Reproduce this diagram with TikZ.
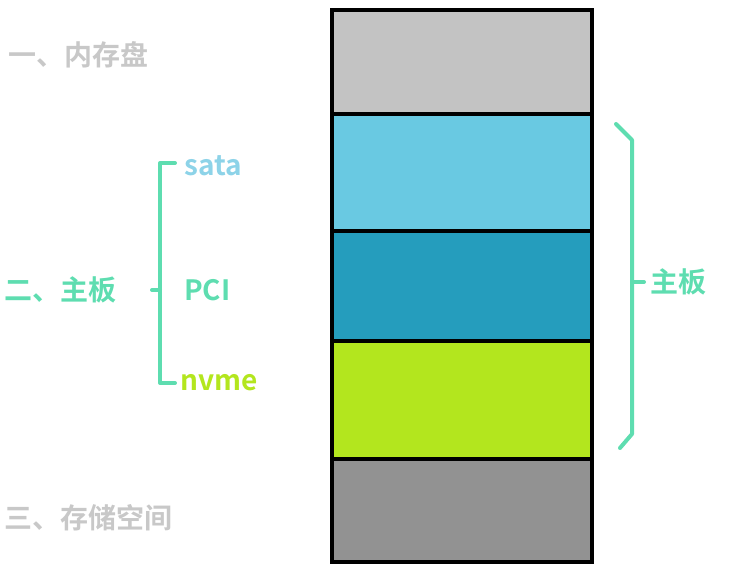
\documentclass[tikz,border=0pt]{standalone}
\usepackage{fontspec}
\setmainfont{Noto Sans CJK SC Bold}
\definecolor{gA}{HTML}{C3C3C3}
\definecolor{bA}{HTML}{69C9E2}
\definecolor{bB}{HTML}{259DBD}
\definecolor{lA}{HTML}{B3E61E}
\definecolor{gB}{HTML}{929292}
\definecolor{txg}{HTML}{C8C8C8}
\definecolor{grn}{HTML}{5EDDB0}
\definecolor{sat}{HTML}{8DD3E8}
\begin{document}
\begin{tikzpicture}[x=1pt,y=-1pt,
 blk/.style={draw=black,line width=4pt},
 lab/.style={font=\fontsize{28}{30}\selectfont,inner sep=0pt,anchor=west},
 br/.style={draw=grn,line width=4pt,line cap=round,line join=round}]
\useasboundingbox (0,0) rectangle (729,572);
\fill[gA] (332,10) rectangle (592,114);
\fill[bA] (332,114) rectangle (592,231);
\fill[bB] (332,231) rectangle (592,341);
\fill[lA] (332,341) rectangle (592,459);
\fill[gB] (332,459) rectangle (592,562);
\draw[blk] (332,10) rectangle (592,562);
\foreach \y in {114,231,341,459} \draw[blk] (332,\y) -- (592,\y);
\node[lab,text=txg] (t1) at (8,55) {一、内存盘};
\node[lab,text=grn] (t2) at (4,290) {二、主板};
\node[lab,text=txg] (t3) at (4,518) {三、存储空间};
\node[lab,text=sat] (s) at (184,166) {sata};
\node[lab,text=grn] (p) at (184,290) {PCI};
\node[lab,text=lA] (n) at (180,383) {nvme};
\draw[br] (175,163) -- (160,163) -- (160,383) -- (175,383);
\draw[br] (152,290) -- (160,290);
\draw[br] (616,124) -- (632,140) -- (632,434) -- (620,448);
\draw[br] (632,282) -- (644,282);
\node[lab,text=grn] (m) at (650,282) {主板};
\end{tikzpicture}
\end{document}
